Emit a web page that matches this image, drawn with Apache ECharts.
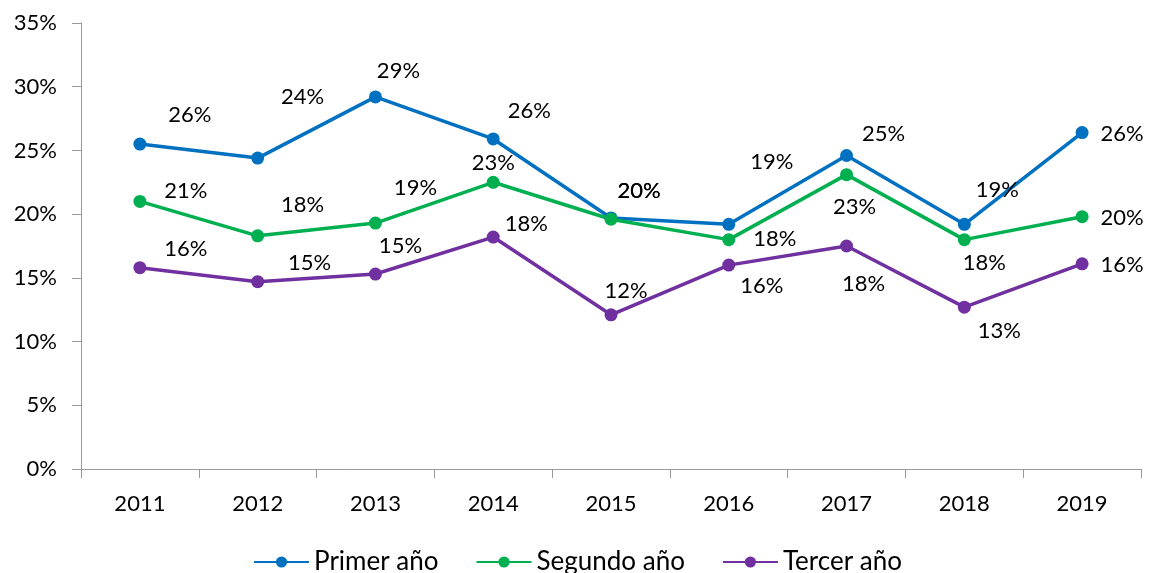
<!DOCTYPE html>
<html>
<head>
<meta charset="utf-8">
<script src="https://cdn.jsdelivr.net/npm/echarts@6/dist/echarts.min.js"></script>
<style>
html, body { margin: 0; padding: 0; background: #fff; }
#chart { width: 1155px; height: 573px; }
</style>
</head>
<body>
<div id="chart"></div>
<script>
var years = ['2011', '2012', '2013', '2014', '2015', '2016', '2017', '2018', '2019'];
var primerAnio = [25.5, 24.4, 29.2, 25.9, 19.7, 19.2, 24.6, 19.2, 26.4];
var segundoAnio = [21.0, 18.3, 19.3, 22.5, 19.6, 18.0, 23.1, 18.0, 19.8];
var tercerAnio = [15.8, 14.7, 15.3, 18.2, 12.1, 16.0, 17.5, 12.7, 16.1];
var seriesNames = ['Primer año', 'Segundo año', 'Tercer año'];
var colors = ['#0070C0', '#00B050', '#7030A0'];

// desplazamiento de cada etiqueta respecto al punto
var offsetsPrimer = [[50, -29], [45, -61], [23, -26], [36, -28], [28, -27], [43, -62], [37, -22], [33, -34], [40, 1]];
var offsetsSegundo = [[46, -10], [45, -31], [40, -35], [0, -19], [28, -28], [46, -1], [8, 32], [20, 23], [40, 1]];
var offsetsTercer = [[46, -19], [52, -19], [25, -28], [33, -13], [15, -24], [33, 21], [17, 38], [35, 24], [40, 1]];

var fontFam = 'Lato, "Open Sans", sans-serif';

function buildData(values, offsets) {
	var out = [];
	for (var i = 0; i < values.length; i++) {
		out.push({
			value: values[i],
			label: {offset: offsets[i]}
		});
	}
	return out;
}

function buildSeries(name, values, offsets, color) {
	return {
		name: name,
		type: 'line',
		data: buildData(values, offsets),
		symbol: 'circle',
		symbolSize: 13,
		lineStyle: {width: 3.5, color: color},
		itemStyle: {color: color},
		label: {
			show: true,
			position: 'inside',
			color: '#000',
			fontFamily: fontFam,
			fontSize: 22,
			formatter: function (p) {
				return Math.round(p.value) + '%';
			}
		},
		emphasis: {disabled: true},
		animation: false
	};
}

var myChart = echarts.init(document.getElementById('chart'));

var option = {
	backgroundColor: '#fff',
	grid: {
		left: 81,
		right: 14,
		top: 23,
		bottom: 104
	},
	legend: {
		top: 544,
		left: 'center',
		itemWidth: 55,
		itemHeight: 14,
		itemGap: 37,
		textStyle: {color: '#000', fontFamily: fontFam, fontSize: 26},
		data: seriesNames
	},
	xAxis: {
		type: 'category',
		data: years,
		boundaryGap: true,
		axisLine: {lineStyle: {color: '#999', width: 1}},
		axisTick: {show: true, length: 9, lineStyle: {color: '#999'}},
		axisLabel: {color: '#000', fontFamily: fontFam, fontSize: 22, margin: 24}
	},
	yAxis: {
		type: 'value',
		min: 0,
		max: 35,
		interval: 5,
		axisLine: {show: true, lineStyle: {color: '#999', width: 1}},
		axisTick: {show: true, length: 9, lineStyle: {color: '#999'}},
		splitLine: {show: false},
		axisLabel: {
			color: '#000',
			fontFamily: fontFam,
			fontSize: 22,
			margin: 24,
			formatter: '{value}%'
		}
	},
	series: [
		buildSeries(seriesNames[0], primerAnio, offsetsPrimer, colors[0]),
		buildSeries(seriesNames[1], segundoAnio, offsetsSegundo, colors[1]),
		buildSeries(seriesNames[2], tercerAnio, offsetsTercer, colors[2])
	]
};

myChart.setOption(option);
</script>
</body>
</html>
